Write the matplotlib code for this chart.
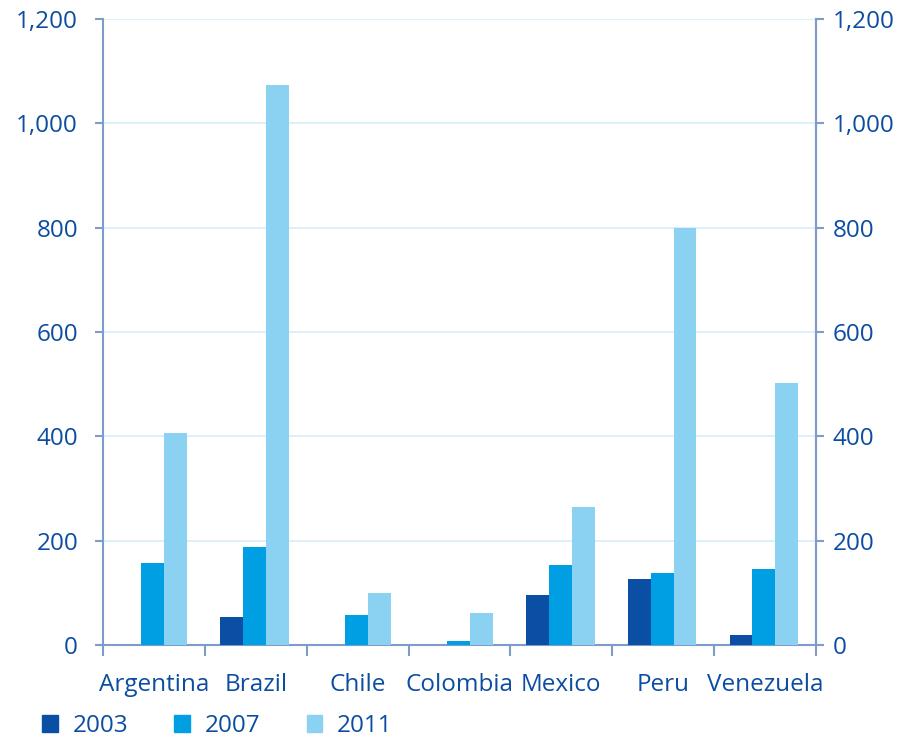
import numpy as np
import matplotlib.pyplot as plt
from matplotlib.patches import Patch
from matplotlib.ticker import FuncFormatter

# values by country and year
countries = ["Argentina", "Brazil", "Chile", "Colombia", "Mexico", "Peru", "Venezuela"]
v2003 = [0, 54, 0, 0, 96, 127, 19]
v2007 = [157, 188, 57, 8, 153, 138, 146]
v2011 = [406, 1073, 100, 61, 265, 800, 502]
years = ["2003", "2007", "2011"]
colors = ["#0A4FA3", "#009FE3", "#8BD1F1"]

text_c = "#0C4DA2"
axis_c = "#7D9CCB"
grid_c = "#D4EEF8"

plt.rcParams['font.family'] = ['Open Sans', 'DejaVu Sans']
fs = 17.5

fig = plt.figure(figsize=(9.24, 7.44), dpi=100)
ax = fig.add_axes([0.1115, 0.133, 0.7715, 0.8415])

x = np.arange(len(countries))
w = 0.225
for i, vals in enumerate([v2003, v2007, v2011]):
    ax.bar(x + (i - 1) * w - 0.01, vals, w, color=colors[i], zorder=3)

ax.set_xlim(-0.5, len(countries) - 0.5)
ax.set_ylim(0, 1200)
ax.set_yticks(range(0, 1201, 200))
fmt = FuncFormatter(lambda v, p: f"{int(v):,}")
ax.yaxis.set_major_formatter(fmt)
ax.grid(axis='y', color=grid_c, linewidth=1.2, zorder=0)

ax.set_xticks(x)
ax.set_xticklabels(countries)
ax.set_xticks(np.arange(-0.5, len(countries)), minor=True)
ax.tick_params(axis='x', which='major', length=0, pad=20, labelsize=fs, labelcolor=text_c)
ax.tick_params(axis='x', which='minor', length=8, width=1.5, color=axis_c, direction='out')
ax.tick_params(axis='y', length=6, width=1.5, color=axis_c, labelsize=fs, labelcolor=text_c, pad=12)

for s in ['left', 'bottom', 'right']:
    ax.spines[s].set_color(axis_c)
    ax.spines[s].set_linewidth(1.5)
ax.spines['top'].set_visible(False)

# duplicate scale on the right
ax2 = ax.twinx()
ax2.set_ylim(ax.get_ylim())
ax2.set_yticks(range(0, 1201, 200))
ax2.yaxis.set_major_formatter(fmt)
ax2.tick_params(axis='y', length=6, width=1.5, color=axis_c, labelsize=fs, labelcolor=text_c, pad=6)
for s in ['left', 'bottom', 'top']:
    ax2.spines[s].set_visible(False)
ax2.spines['right'].set_color(axis_c)
ax2.spines['right'].set_linewidth(1.5)

handles = [Patch(color=c, label=y) for c, y in zip(colors, years)]
leg = fig.legend(handles=handles, loc='lower left', bbox_to_anchor=(0.022, -0.022), ncol=3,
                 frameon=False, fontsize=fs, handlelength=0.65, handleheight=0.7,
                 handletextpad=0.6, columnspacing=1.9)
for t in leg.get_texts():
    t.set_color(text_c)

fig.savefig("out.png", dpi=100)
